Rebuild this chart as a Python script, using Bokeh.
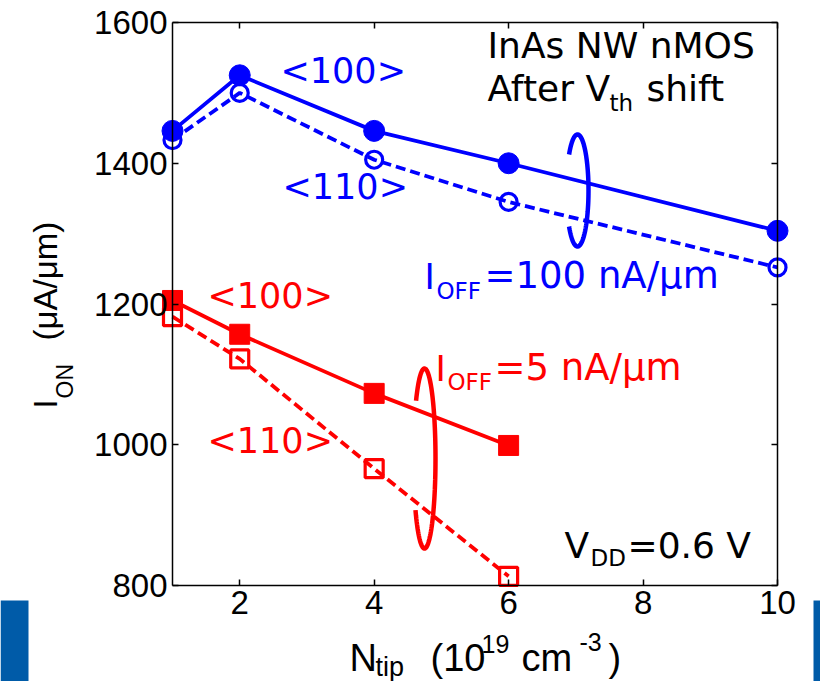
import numpy as np
from bokeh.plotting import figure
from bokeh.models import (Label, LinearAxis, FixedTicker, BoxAnnotation, Range1d)
from bokeh.embed import file_html
from bokeh.resources import INLINE

# ---------------- data ----------------
n_tip = [1, 2, 4, 6, 10]
ion_100nA_100 = [1446, 1525, 1446, 1400, 1304]   # <100>, IOFF=100 nA/um (filled circles)
ion_100nA_110 = [1433, 1500, 1405, 1345, 1252]   # <110>, IOFF=100 nA/um (open circles)
n_tip_5 = [1, 2, 4, 6]
ion_5nA_100 = [1205, 1157, 1073, 999]            # <100>, IOFF=5 nA/um (filled squares)
ion_5nA_110 = [1182, 1122, 966, 813]             # <110>, IOFF=5 nA/um (open squares)
x_ticks = [2, 4, 6, 8, 10]
y_ticks = [800, 1000, 1200, 1400, 1600]
x_lim = (1, 10)
y_lim = (800, 1600)

BLUE = "#0000FF"
RED = "#FF0000"

# ---------------- layout ----------------
W, H = 820, 681
FL, FR, FT, FB = 172, 777, 22, 585   # pixel box of the axes


def X(px):
    return x_lim[0] + (px - FL) / (FR - FL) * (x_lim[1] - x_lim[0])


def Y(py):
    return y_lim[1] - (py - FT) / (FB - FT) * (y_lim[1] - y_lim[0])


p = figure(width=W, height=H, output_backend="svg", toolbar_location=None,
           x_range=Range1d(X(0), X(W)), y_range=Range1d(Y(H), Y(0)),
           min_border=0, min_border_left=0, min_border_right=0,
           min_border_top=0, min_border_bottom=0,
           x_axis_location=None, y_axis_location=None)
p.grid.visible = False
p.outline_line_color = None
p.background_fill_color = "white"
p.border_fill_color = "white"

TICK_FONT = "Liberation Sans"


def make_axis(ticks, loc, bounds, labels=True):
    ax = LinearAxis(ticker=FixedTicker(ticks=ticks), fixed_location=loc, bounds=bounds)
    ax.axis_line_color = "black"
    ax.axis_line_width = 1.5
    ax.major_tick_in = 6
    ax.major_tick_out = 0
    ax.major_tick_line_width = 1.5
    ax.minor_tick_line_color = None
    ax.major_label_text_font = TICK_FONT
    ax.major_label_text_font_size = "33px"
    ax.major_label_text_color = "black"
    ax.major_label_standoff = 5
    if not labels:
        ax.major_label_overrides = {t: "" for t in ticks}
    return ax


p.add_layout(make_axis(y_ticks, x_lim[0], y_lim), "left")
p.add_layout(make_axis(y_ticks, x_lim[1], y_lim, labels=False), "right")
p.add_layout(make_axis(x_ticks, y_lim[0], x_lim), "below")
p.add_layout(make_axis(x_ticks, y_lim[1], x_lim, labels=False), "above")

# ---------------- series ----------------
p.line(n_tip, ion_100nA_100, line_color=BLUE, line_width=3.8)
p.scatter(n_tip, ion_100nA_100, marker="circle", size=21, fill_color=BLUE, line_color=BLUE)
p.line(n_tip, ion_100nA_110, line_color=BLUE, line_width=3.8, line_dash="10 5")
p.scatter(n_tip, ion_100nA_110, marker="circle", size=17, fill_color=None,
          line_color=BLUE, line_width=3.2)

p.line(n_tip_5, ion_5nA_100, line_color=RED, line_width=3.8)
p.scatter(n_tip_5, ion_5nA_100, marker="square", size=20, fill_color=RED, line_color=RED)
p.line(n_tip_5, ion_5nA_110, line_color=RED, line_width=3.8, line_dash="10 5")
p.scatter(n_tip_5, ion_5nA_110, marker="square", size=18, fill_color=None,
          line_color=RED, line_width=3.2)


# ---------------- grouping ellipses (decoration) ----------------
def open_ellipse(cx, cy, rx, ry, t0, t1, color):
    t = np.radians(np.linspace(t0, t1, 120))
    xs = [X(cx + rx * np.cos(a)) for a in t]
    ys = [Y(cy - ry * np.sin(a)) for a in t]
    p.line(xs, ys, line_color=color, line_width=4.5)


open_ellipse(577, 190, 11, 56, 220, 500, BLUE)
open_ellipse(424, 458, 11, 90, 215, 500, RED)

# ---------------- texts ----------------
ANN_FONT = "DejaVu Sans"
SHIFT = 0.34   # empirical baseline correction (fraction of font size)


def lab(px, py, text, color, size, font=ANN_FONT, angle=0.0):
    if angle == 0.0:
        py = py - SHIFT * size
    else:
        px = px - SHIFT * size
    p.add_layout(Label(x=X(px), y=Y(py), text=text, text_color=color,
                       text_font=font, text_font_size=f"{size}px",
                       text_baseline="alphabetic", text_align="left",
                       angle=angle))


lab(487, 57, "InAs NW nMOS", "black", 36)
lab(487, 100, "After V", "black", 36)
lab(609, 110, "th", "black", 23)
lab(646, 100, "shift", "black", 36)

lab(280, 82, "<100>", BLUE, 35)
lab(282, 198, "<110>", BLUE, 35)
lab(424, 288, "I", BLUE, 35)
lab(436, 298, "OFF", BLUE, 23)
lab(484, 288, "=100 nA/μm", BLUE, 37)

lab(207, 307, "<100>", RED, 35)
lab(207, 452, "<110>", RED, 35)
lab(435, 380, "I", RED, 35)
lab(447, 389, "OFF", RED, 23)
lab(494, 380, "=5 nA/μm", RED, 37)

lab(564, 557, "V", "black", 36)
lab(590, 565, "DD", "black", 23)
lab(627, 557, "=0.6 V", "black", 36)

# axis titles
lab(349, 670, "N", "black", 38, font=TICK_FONT)
lab(375, 676, "tip", "black", 27, font=TICK_FONT)
lab(430, 670, "(10", "black", 38, font=TICK_FONT)
lab(481, 652, "19", "black", 25, font=TICK_FONT)
lab(521, 670, "cm", "black", 38, font=TICK_FONT)
lab(579, 650, "-3", "black", 25, font=TICK_FONT)
lab(608, 670, ")", "black", 38, font=TICK_FONT)

lab(56, 408, "I", "black", 33, font=TICK_FONT, angle=np.pi / 2)
lab(72, 398, "ON", "black", 23, font=TICK_FONT, angle=np.pi / 2)
lab(56, 340, "(μA/μm)", "black", 33, font=TICK_FONT, angle=np.pi / 2)

# slide decoration bars
p.add_layout(BoxAnnotation(left=X(0), right=X(28), top=Y(600), bottom=Y(681),
                           fill_color="#005BA8", fill_alpha=1.0, line_color=None))
p.add_layout(BoxAnnotation(left=X(813), right=X(820), top=Y(600), bottom=Y(681),
                           fill_color="#005BA8", fill_alpha=1.0, line_color=None))

open("out.html", "w").write(file_html(p, INLINE))
